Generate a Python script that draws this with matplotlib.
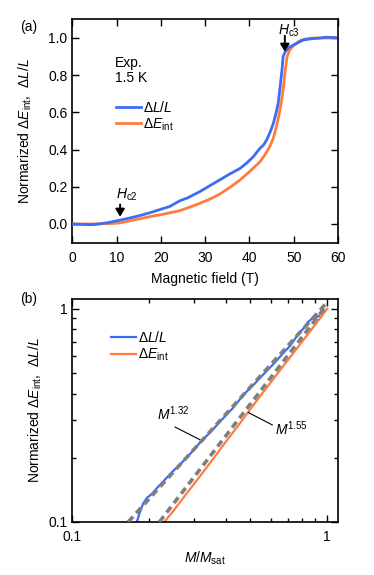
import numpy as np
import matplotlib
matplotlib.use('Agg')
import matplotlib.pyplot as plt
from matplotlib.ticker import LogLocator, FixedLocator, FixedFormatter, NullFormatter, MultipleLocator

plt.rcParams['font.family'] = ['Liberation Sans', 'DejaVu Sans']
plt.rcParams['font.size'] = 10
plt.rcParams['mathtext.fontset'] = 'custom'
plt.rcParams['mathtext.rm'] = 'Liberation Sans'
plt.rcParams['mathtext.it'] = 'Liberation Sans:italic'
plt.rcParams['mathtext.bf'] = 'Liberation Sans:bold'

# Panel (a): normalized curves vs magnetic field (T)
field_dl = [0, 2, 4, 5, 6, 8, 10, 11, 12, 14, 16, 18, 20, 22, 24.3, 26, 28.8, 31, 33.3, 35.5, 37.9, 39.5,
            40.9, 41.8, 42.4, 43.2, 43.9, 44.7, 45.4, 46.0, 46.5, 46.8, 47.1, 47.4, 47.6, 48.0, 48.4,
            49.0, 49.9, 51.4, 52.1, 54, 56, 57.4, 59.5]
dl_over_l = [0, -0.002, -0.004, -0.003, 0, 0.007, 0.017, 0.022, 0.027, 0.038, 0.05, 0.064, 0.079, 0.094,
             0.125, 0.14, 0.174, 0.205, 0.237, 0.268, 0.299, 0.33, 0.362, 0.39, 0.407, 0.425, 0.452,
             0.495, 0.541, 0.595, 0.649, 0.71, 0.774, 0.84, 0.9, 0.922, 0.935, 0.95, 0.962, 0.98,
             0.989, 0.996, 1.0, 1.004, 1.002]

field_e = [0, 4, 8, 10, 11, 12, 14, 16, 18, 20, 22, 24.3, 26, 28.8, 31, 33.3, 35.5, 37.9, 40, 42.4, 43.5,
           44.6, 45.4, 46.1, 46.7, 47.3, 47.7, 48.0, 48.5, 49.1, 49.8, 50.5, 51.4, 52.5, 54, 56, 59.5]
de_int = [0, 0, 0.002, 0.004, 0.007, 0.012, 0.022, 0.032, 0.042, 0.05, 0.06, 0.072, 0.086, 0.111, 0.133,
          0.161, 0.195, 0.237, 0.281, 0.335, 0.372, 0.416, 0.462, 0.523, 0.59, 0.667, 0.74, 0.81, 0.9,
          0.935, 0.955, 0.97, 0.985, 0.994, 0.999, 1.0, 1.0]

# Panel (b): log-log vs M/Msat
m_dl = [0.1795, 0.184, 0.190, 0.197, 0.205, 0.215, 0.228, 0.245, 0.265, 0.29, 0.318, 0.35, 0.39, 0.43,
        0.47, 0.52, 0.57, 0.62, 0.67, 0.72, 0.77, 0.81, 0.84, 0.87, 0.90, 0.93]
dl_log = [0.100, 0.110, 0.122, 0.130, 0.135, 0.144, 0.155, 0.170, 0.186, 0.208, 0.236, 0.265, 0.305,
          0.345, 0.395, 0.445, 0.50, 0.555, 0.615, 0.675, 0.76, 0.81, 0.865, 0.895, 0.91, 0.925]

m_e = [0.230, 0.25, 0.28, 0.31, 0.35, 0.40, 0.45, 0.50, 0.55, 0.60, 0.65, 0.70, 0.75, 0.80, 0.85, 0.90,
       0.95, 1.00]
e_log = [0.100, 0.113, 0.135, 0.158, 0.191, 0.237, 0.285, 0.338, 0.393, 0.450, 0.510, 0.572, 0.636,
         0.703, 0.773, 0.845, 0.92, 1.00]

# power-law guide lines (end points)
fit132_x = [0.166, 1.0]
fit132_y = [0.1, 1.07]
fit155_x = [0.22, 1.0]
fit155_y = [0.1, 1.045]

blue = '#3d6df5'
orange = '#ff7b3e'
gray = '#7f7f7f'

ylab = 'Normarized Δ$E_{\\rm int}$,  Δ$L/L$'

fig = plt.figure(figsize=(3.74, 5.75), dpi=100)

# ---------------- (a) ----------------
ax1 = fig.add_axes([0.1933, 0.5781, 0.7104, 0.3882])
ax1.plot(field_e, de_int, color=orange, lw=2.0, label='Δ$E_{\\rm int}$', zorder=2)
ax1.plot(field_dl, dl_over_l, color=blue, lw=2.0, label='Δ$L/L$', zorder=3)
ax1.set_xlim(0, 60)
ax1.set_ylim(-0.1, 1.1)
ax1.xaxis.set_major_locator(MultipleLocator(10))
ax1.yaxis.set_major_locator(MultipleLocator(0.2))
ax1.yaxis.set_major_formatter(plt.FormatStrFormatter('%.1f'))
ax1.tick_params(direction='in', top=True, right=True, length=5, width=1)
ax1.tick_params(axis='x', pad=6)
ax1.set_xlabel('Magnetic field (T)', labelpad=5)
ax1.set_ylabel(ylab, labelpad=10)
for s in ax1.spines.values():
    s.set_linewidth(1.2)

h, l = ax1.get_legend_handles_labels()
ax1.legend([h[1], h[0]], [l[1], l[0]], loc='upper left', bbox_to_anchor=(0.165, 0.64),
           frameon=False, handlelength=1.8, handletextpad=0.15, labelspacing=0.1,
           borderpad=0, borderaxespad=0)

ax1.text(9.6, 0.866, 'Exp.', va='center', ha='left')
ax1.text(9.6, 0.785, '1.5 K', va='center', ha='left')

arrow = dict(arrowstyle='-|>,head_width=0.27,head_length=0.45', color='k', lw=1.4,
             shrinkA=0, shrinkB=0, mutation_scale=10)
ax1.annotate('', xy=(10.8, 0.039), xytext=(10.8, 0.105), arrowprops=arrow)
ax1.text(9.9, 0.138, '$H_{\\rm c2}$', ha='left', va='baseline')
ax1.annotate('', xy=(48.0, 0.926), xytext=(48.0, 1.012), arrowprops=arrow)
ax1.text(46.5, 1.018, '$H_{\\rm c3}$', ha='left', va='baseline')

fig.text(20 / 374, 1 - 27 / 575, '(a)', ha='left', va='center')

# ---------------- (b) ----------------
ax2 = fig.add_axes([0.1925, 0.0922, 0.7104, 0.3878])
ax2.plot(m_dl, dl_log, color=blue, lw=1.6, label='Δ$L/L$', zorder=2)
ax2.plot(m_e, e_log, color=orange, lw=1.6, label='Δ$E_{\\rm int}$', zorder=2)
ax2.plot(fit132_x, fit132_y, color=gray, lw=2.6, ls=(0, (2.0, 1.3)), zorder=3)
ax2.plot(fit155_x, fit155_y, color=gray, lw=2.6, ls=(0, (2.0, 1.3)), zorder=3)
ax2.set_xscale('log')
ax2.set_yscale('log')
ax2.set_xlim(0.1, 1.1)
ax2.set_ylim(0.1, 1.11)
for axis in (ax2.xaxis, ax2.yaxis):
    axis.set_major_locator(FixedLocator([0.1, 1]))
    axis.set_major_formatter(FixedFormatter(['0.1', '1']))
    axis.set_minor_locator(LogLocator(base=10, subs=np.arange(2, 10)))
    axis.set_minor_formatter(NullFormatter())
ax2.tick_params(which='both', direction='in', top=True, right=True, width=1)
ax2.tick_params(which='major', length=5)
ax2.tick_params(which='minor', length=3)
ax2.tick_params(axis='x', which='both', pad=6)
ax2.set_xlabel('$M/M_{\\rm sat}$', labelpad=4)
ax2.set_ylabel(ylab, labelpad=3)
for s in ax2.spines.values():
    s.set_linewidth(1.2)

ax2.legend(loc='upper left', bbox_to_anchor=(0.147, 0.86), frameon=False, handlelength=1.8,
           handletextpad=0.15, labelspacing=0.1, borderpad=0, borderaxespad=0)

ax2.plot([0.2535, 0.318], [0.2786, 0.2427], color='k', lw=0.8)
ax2.text(0.2148, 0.301, '$M^{1.32}$', ha='left', va='baseline')
ax2.plot([0.491, 0.61], [0.326, 0.285], color='k', lw=0.8)
ax2.text(0.625, 0.256, '$M^{1.55}$', ha='left', va='baseline')

fig.text(20 / 374, 1 - 299 / 575, '(b)', ha='left', va='center')

fig.savefig('out.png', dpi=100)
